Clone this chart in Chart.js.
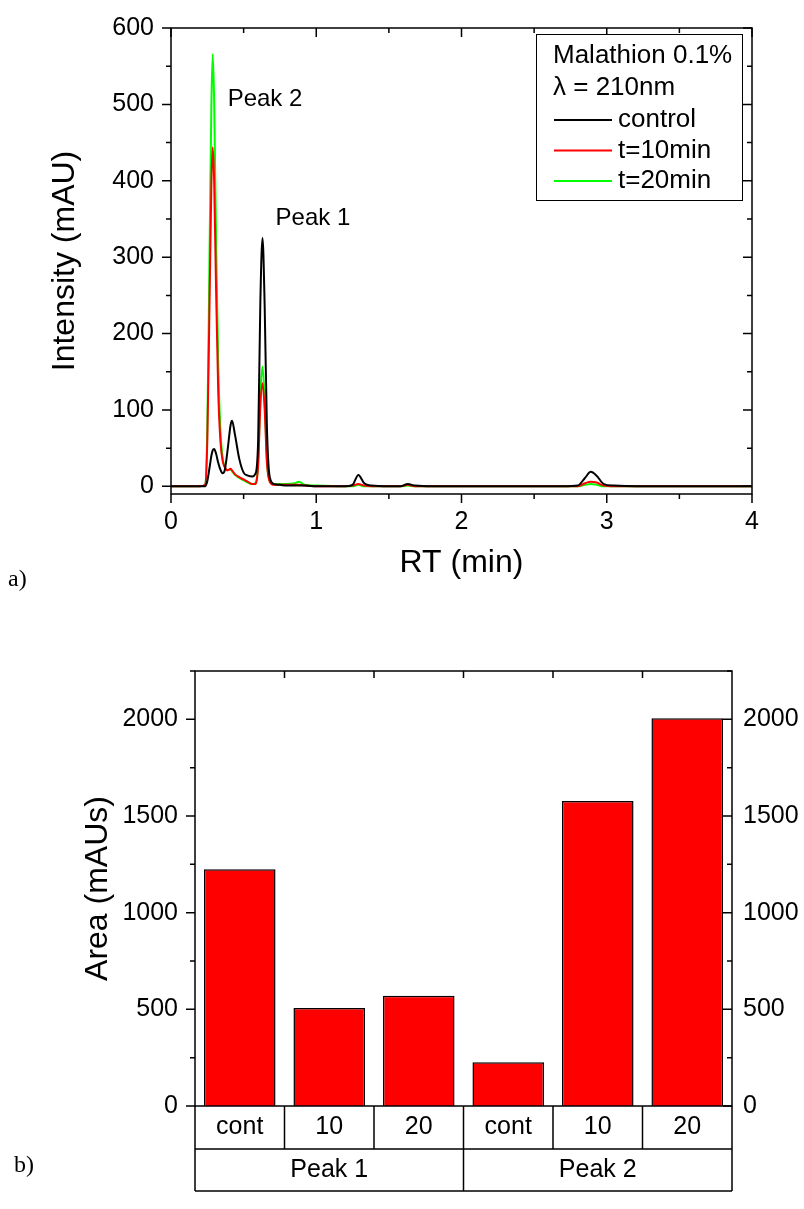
<!DOCTYPE html>
<html lang="en">
<head>
<meta charset="UTF-8">
<title>Malathion degradation - HPLC</title>
<script src="https://cdn.jsdelivr.net/npm/chart.js"></script>
<style>
  html, body { margin: 0; padding: 0; background: #fff; }
  body { width: 804px; height: 1209px; position: relative; overflow: hidden; }
  canvas { position: absolute; left: 0; }
  #chartA { top: 0; }
  #chartB { top: 620px; }
  .tag { position: absolute; font-family: "Liberation Serif", "Times New Roman", serif; font-size: 24px; color: #000; }
</style>
</head>
<body>
<canvas id="chartA" width="804" height="600"></canvas>
<canvas id="chartB" width="804" height="589"></canvas>
<div class="tag" style="left:8px; top:565px">a)</div>
<div class="tag" style="left:14px; top:1151px">b)</div>
<script>
const FONT = '"Liberation Sans", Arial, sans-serif';

// --- (a) chromatogram, RT in min, intensity in mAU
const rt = [0, 0.20, 0.235, 0.25, 0.265, 0.278, 0.287, 0.297, 0.31, 0.325,
            0.34, 0.355, 0.37, 0.39, 0.41, 0.42, 0.44, 0.47, 0.50, 0.53,
            0.56, 0.58, 0.60, 0.615, 0.63, 0.645, 0.66, 0.68, 0.71, 0.75,
            0.80, 0.85, 0.88, 0.92, 1.00, 1.20, 1.25, 1.29, 1.33, 1.38,
            1.50, 1.58, 1.63, 1.68, 1.80, 2.70, 2.80, 2.85, 2.89, 2.93,
            2.98, 3.05, 3.20, 4.00];
const control = [0, 0, 0, 7, 24, 40, 47, 49, 43, 31,
                 22, 17, 21, 48, 80, 86, 68, 36, 18, 14,
                 13, 16, 60, 240, 325, 235, 80, 12, 3, 2,
                 1, 1, 1, 1, 0, 0, 2, 15, 4, 1,
                 0, 0, 3, 1, 0, 0, 1, 11, 19, 14,
                 3, 1, 0, 0];
const t10 = [0, 0, 2, 60, 235, 395, 444, 400, 260, 125,
             60, 34, 25, 21, 23, 21, 16, 12, 9, 6,
             3, 3, 28, 105, 135, 100, 32, 6, 2, 2,
             2, 2, 2, 1, 0, 0, 1, 3, 1, 0,
             0, 0, 2, 0, 0, 0, 0, 4, 6, 5,
             1, 0, 0, 0];
const t20 = [0, 0, 2, 75, 300, 500, 566, 505, 330, 160,
             75, 38, 26, 21, 22, 20, 15, 11, 8, 5,
             3, 4, 32, 120, 157, 115, 36, 7, 3, 3,
             3, 4, 6, 2, 1, 0, 0, 2, 0, 0,
             0, 0, 1, 0, 0, 0, 0, 2, 3, 2,
             0, 0, 0, 0];
const seriesNames = ['control', 't=10min', 't=20min'];
const legendTitle = ['Malathion 0.1%', '\u03bb = 210nm'];
const peakNames = ['Peak 2', 'Peak 1'];
const peakNameRt = [0.39, 0.72];
const peakNameValue = [506, 351];

// --- (b) peak areas, mAUs
const sampleLabels = ['cont', '10', '20', 'cont', '10', '20'];
const peakGroups = ['Peak 1', 'Peak 2'];
const areas = [1225, 507, 570, 226, 1577, 2005];

const toPoints = ys => rt.map((x, i) => ({ x: x, y: ys[i] }));
const isMultiple = (v, step) => Math.abs(v / step - Math.round(v / step)) < 1e-6;

// frame around the plot with Origin-style ticks (outer on left/bottom, inner on right/top)
// plus the value labels of the y axis (left, and right when asked)
const framePlugin = {
  id: 'frame',
  afterDraw(chart, args, o) {
    const { ctx, chartArea: a } = chart;
    const ys = chart.scales.y;
    ctx.save();
    ctx.strokeStyle = '#000';
    ctx.lineWidth = 1.5;
    ctx.strokeRect(a.left, a.top, a.right - a.left, a.bottom - a.top);
    ctx.beginPath();
    for (let v = o.yFrom; v <= ys.max + 1e-9; v += o.yMinor) {
      const p = ys.getPixelForValue(v);
      const len = isMultiple(v, o.yMajor) ? 9 : 5;
      ctx.moveTo(a.left - len, p); ctx.lineTo(a.left, p);
      ctx.moveTo(a.right, p); ctx.lineTo(a.right - len, p);
    }
    if (o.xMinor) {
      const xs = chart.scales.x;
      for (let v = xs.min; v <= xs.max + 1e-9; v += o.xMinor) {
        const p = xs.getPixelForValue(v);
        const len = isMultiple(v, o.xMajor) ? 9 : 5;
        ctx.moveTo(p, a.bottom); ctx.lineTo(p, a.bottom + len);
        ctx.moveTo(p, a.top); ctx.lineTo(p, a.top + len);
      }
    }
    ctx.stroke();

    ctx.fillStyle = '#000';
    ctx.font = '25px ' + FONT;
    ctx.textBaseline = 'middle';
    for (let v = o.yFrom; v <= ys.max + 1e-9; v += o.yMajor) {
      const p = ys.getPixelForValue(v);
      ctx.textAlign = 'right';
      ctx.fillText(String(v), a.left - o.padLeft, p);
      if (o.padRight) {
        ctx.textAlign = 'left';
        ctx.fillText(String(v), a.right + o.padRight, p);
      }
    }
    ctx.restore();
  }
};

const chromNotes = {
  id: 'chromNotes',
  afterDraw(chart) {
    const { ctx, chartArea: a } = chart;
    const xs = chart.scales.x, ys = chart.scales.y;
    ctx.save();
    ctx.font = '24px ' + FONT;
    ctx.fillStyle = '#000';
    ctx.textAlign = 'left';
    ctx.textBaseline = 'middle';
    peakNames.forEach((t, i) => {
      ctx.fillText(t, xs.getPixelForValue(peakNameRt[i]), ys.getPixelForValue(peakNameValue[i]));
    });

    // legend box
    const x0 = a.right - 216, y0 = a.top + 6, w = 206, h = 166;
    ctx.fillStyle = '#fff';
    ctx.fillRect(x0, y0, w, h);
    ctx.strokeStyle = '#000';
    ctx.lineWidth = 1;
    ctx.strokeRect(x0 + 0.5, y0 + 0.5, w, h);
    ctx.fillStyle = '#000';
    ctx.font = '26px ' + FONT;
    let y = y0 + 22;
    legendTitle.forEach(t => { ctx.fillText(t, x0 + 17, y); y += 32; });
    chart.data.datasets.forEach(ds => {
      ctx.strokeStyle = ds.borderColor;
      ctx.lineWidth = 2;
      ctx.beginPath();
      ctx.moveTo(x0 + 18, y); ctx.lineTo(x0 + 76, y);
      ctx.stroke();
      ctx.fillText(ds.label, x0 + 82, y);
      y += 30.5;
    });
    ctx.restore();
  }
};

// two-row category table under the bars
const tablePlugin = {
  id: 'catTable',
  afterDraw(chart) {
    const { ctx, chartArea: a } = chart;
    const xs = chart.scales.x;
    const n = sampleLabels.length;
    const centers = sampleLabels.map((_, i) => xs.getPixelForValue(i));
    const half = (centers[1] - centers[0]) / 2;
    const edges = [centers[0] - half].concat(centers.map(c => c + half));
    const per = n / peakGroups.length;
    const r1 = a.bottom + 43, r2 = r1 + 42;
    ctx.save();
    ctx.strokeStyle = '#000';
    ctx.lineWidth = 1.5;
    ctx.beginPath();
    edges.forEach(x => { ctx.moveTo(x, a.bottom); ctx.lineTo(x, r1); });
    for (let g = 0; g <= peakGroups.length; g++) {
      ctx.moveTo(edges[g * per], r1); ctx.lineTo(edges[g * per], r2);
    }
    ctx.moveTo(edges[0], r1); ctx.lineTo(edges[n], r1);
    ctx.moveTo(edges[0], r2); ctx.lineTo(edges[n], r2);
    edges.slice(1, -1).forEach(x => { ctx.moveTo(x, a.top); ctx.lineTo(x, a.top + 7); });
    ctx.stroke();
    ctx.fillStyle = '#000';
    ctx.font = '25px ' + FONT;
    ctx.textAlign = 'center';
    ctx.textBaseline = 'middle';
    sampleLabels.forEach((t, i) => ctx.fillText(t, centers[i], (a.bottom + r1) / 2));
    peakGroups.forEach((t, g) => ctx.fillText(t, (edges[g * per] + edges[(g + 1) * per]) / 2, (r1 + r2) / 2));
    ctx.restore();
  }
};

const tickFont = { family: FONT, size: 25 };
const titleFont = { family: FONT, size: 32 };

new Chart(document.getElementById('chartA'), {
  type: 'line',
  data: {
    datasets: [
      { label: seriesNames[0], data: toPoints(control), borderColor: '#000000' },
      { label: seriesNames[1], data: toPoints(t10), borderColor: '#ff0000' },
      { label: seriesNames[2], data: toPoints(t20), borderColor: '#00ff00' }
    ]
  },
  options: {
    responsive: false,
    animation: false,
    layout: { padding: { top: 28, right: 52, left: 0, bottom: 0 } },
    elements: {
      line: { borderWidth: 2, cubicInterpolationMode: 'monotone', fill: false },
      point: { radius: 0 }
    },
    plugins: {
      legend: { display: false },
      tooltip: { enabled: false },
      frame: { yFrom: 0, yMinor: 50, yMajor: 100, xMinor: 0.5, xMajor: 1, padLeft: 17 }
    },
    scales: {
      x: {
        type: 'linear', min: 0, max: 4,
        ticks: { stepSize: 1, padding: 13, font: tickFont, color: '#000', maxRotation: 0, autoSkip: false },
        grid: { display: false, drawTicks: false },
        border: { display: false },
        title: { display: true, text: 'RT (min)', font: titleFont, color: '#000', padding: { top: 0, bottom: 18 } },
        afterFit(s) { s.height = 106; }
      },
      y: {
        min: -10, max: 600,
        ticks: { display: false },
        grid: { display: false, drawTicks: false },
        border: { display: false },
        title: { display: true, text: 'Intensity (mAU)', font: titleFont, color: '#000', padding: { top: 46, bottom: 0 } },
        afterFit(s) { s.width = 171; }
      }
    }
  },
  plugins: [framePlugin, chromNotes]
});

new Chart(document.getElementById('chartB'), {
  type: 'bar',
  data: {
    labels: sampleLabels,
    datasets: [{
      data: areas,
      backgroundColor: '#ff0000',
      borderColor: '#000000',
      borderWidth: 1.5,
      barPercentage: 0.8,
      categoryPercentage: 1
    }]
  },
  options: {
    responsive: false,
    animation: false,
    layout: { padding: { top: 51, bottom: 103, left: 0, right: 0 } },
    plugins: {
      legend: { display: false },
      tooltip: { enabled: false },
      frame: { yFrom: 0, yMinor: 250, yMajor: 500, padLeft: 17, padRight: 11 }
    },
    scales: {
      x: { display: false },
      y: {
        min: 0, max: 2250,
        ticks: { display: false },
        grid: { display: false, drawTicks: false },
        border: { display: false },
        title: { display: true, text: 'Area (mAUs)', font: titleFont, color: '#000', padding: { top: 79, bottom: 0 } },
        afterFit(s) { s.width = 195; }
      },
      y2: {
        position: 'right',
        min: 0, max: 2250,
        ticks: { display: false },
        grid: { display: false, drawTicks: false },
        border: { display: false },
        afterFit(s) { s.width = 72; }
      }
    }
  },
  plugins: [framePlugin, tablePlugin]
});
</script>
</body>
</html>
